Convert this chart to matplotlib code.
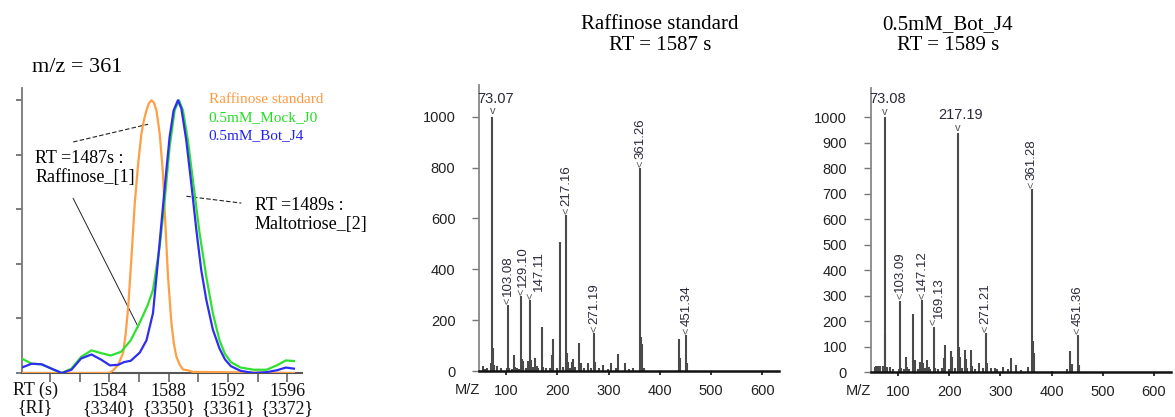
import matplotlib
matplotlib.use("Agg")
import matplotlib.pyplot as plt

# ---- chromatogram m/z = 361 (normalised intensity) ----
raf_rt = [1578.1, 1584.0, 1584.27, 1584.6, 1584.94, 1585.12, 1585.28, 1585.5, 1585.72, 1585.95,
          1586.17, 1586.35, 1586.51, 1586.68, 1586.85, 1587.02, 1587.18, 1587.4, 1587.62, 1587.78,
          1587.96, 1588.19, 1588.35, 1588.52, 1588.75, 1588.97, 1589.3, 1589.64, 1596.45]
raf_int = [0, 0, 0.01, 0.03, 0.074, 0.15, 0.244, 0.427, 0.622, 0.769,
           0.878, 0.93, 0.963, 0.99, 1.0, 0.99, 0.963, 0.878, 0.732, 0.549,
           0.354, 0.184, 0.11, 0.061, 0.03, 0.013, 0.01, 0.004, 0.0]

mock_rt = [1578.1, 1578.77, 1579.44, 1580.1, 1580.8, 1581.45, 1582.1, 1582.8, 1583.45, 1584.1,
           1584.8, 1585.45, 1586.1, 1586.6, 1586.95, 1587.4, 1587.74, 1588.07, 1588.41, 1588.7,
           1588.97, 1589.3, 1589.64, 1590.09, 1590.54, 1590.98, 1591.43, 1591.8, 1592.2, 1592.85,
           1593.75, 1594.6, 1595.3, 1595.9, 1596.45]
mock_int = [0.053, 0.034, 0.032, 0.016, 0.0, 0.016, 0.059, 0.083, 0.073, 0.064,
            0.078, 0.12, 0.19, 0.25, 0.305, 0.464, 0.634, 0.829, 0.963, 1.0,
            0.963, 0.854, 0.707, 0.512, 0.354, 0.22, 0.12, 0.07, 0.04, 0.02,
            0.012, 0.012, 0.028, 0.046, 0.044]

bot_rt = [1578.1, 1578.77, 1579.44, 1580.1, 1580.8, 1581.45, 1582.1, 1582.8, 1583.45, 1584.05,
          1584.6, 1585.0, 1585.45, 1586.06, 1586.51, 1586.95, 1587.29, 1587.62, 1587.85, 1588.07,
          1588.34, 1588.63, 1588.86, 1589.19, 1589.53, 1589.87, 1590.2, 1590.54, 1590.98, 1591.43,
          1591.8, 1592.2, 1592.85, 1593.75, 1594.6, 1595.3, 1595.9, 1596.45]
bot_int = [0.02, 0.034, 0.032, 0.016, 0.0, 0.012, 0.053, 0.068, 0.049, 0.028,
           0.03, 0.04, 0.045, 0.075, 0.12, 0.22, 0.415, 0.61, 0.744, 0.866,
           0.963, 1.0, 0.97, 0.854, 0.695, 0.525, 0.378, 0.269, 0.16, 0.09,
           0.05, 0.025, 0.008, 0.0, 0.003, 0.01, 0.02, 0.016]

rt_ticks = [1580, 1582, 1584, 1586, 1588, 1590, 1592, 1594, 1596]
rt_labels = ['', '', '1584\n{3340}', '', '1588\n{3350}', '', '1592\n{3361}', '', '1596\n{3372}']
chrom_names = ['Raffinose standard', '0.5mM_Mock_J0', '0.5mM_Bot_J4']

# ---- mass spectra ----
std_mz = [55, 59, 63, 70, 73.07, 75, 77, 83, 89, 101, 103.08, 105, 111, 115, 117, 121, 125, 129.10,
          131, 133, 139, 143, 147.11, 149, 153, 157, 160, 163, 169, 171, 177, 185, 189, 191, 199,
          204, 205, 211, 217.16, 219, 221, 225, 229, 231, 235, 243, 245, 251, 259, 265, 271.19,
          273, 281, 289, 299, 305, 315, 319, 331, 339, 347, 361.26, 363, 365, 369, 437, 439, 451.34,
          453]
std_int = [20, 8, 10, 30, 1000, 89, 25, 20, 10, 10, 260, 12, 8, 62, 17, 10, 8, 295,
           46, 40, 12, 39, 279, 42, 15, 50, 18, 12, 174, 15, 10, 12, 63, 125, 10,
           508, 50, 14, 613, 70, 35, 12, 37, 46, 15, 109, 30, 12, 30, 12, 148,
           37, 10, 24, 8, 33, 10, 67, 30, 8, 10, 797, 132, 106, 12, 125, 52, 142,
           30]
std_labels = ['73.07', '103.08', '129.10', '147.11', '217.16', '271.19', '361.26', '451.34']
std_flat = ['73.07']

j4_mz = [55, 57, 60, 65, 70, 73.08, 75, 77, 83, 89, 101, 103.09, 105, 111, 116, 117, 121, 129,
         131, 133, 139, 143, 147.12, 149, 153, 157, 160, 163, 169.13, 171, 177, 185, 189, 191,
         199, 204, 206, 211, 217.19, 219, 221, 225, 230, 232, 235, 242, 245, 251, 258, 265,
         271.21, 273, 281, 289, 293, 305, 315, 320, 331, 341, 354, 361.28, 363, 365, 401, 430,
         437, 439, 451.36, 453]
j4_int = [20, 25, 22, 25, 25, 1000, 145, 20, 20, 10, 12, 280, 14, 10, 60, 20, 12, 226,
          47, 47, 12, 40, 283, 35, 15, 47, 20, 12, 178, 15, 12, 15, 54, 105,
          12, 82, 58, 15, 937, 100, 58, 15, 86, 50, 15, 86, 25, 12, 37, 15,
          152, 37, 15, 15, 10, 21, 10, 54, 27, 8, 21, 717, 123, 76, 5, 13,
          82, 31, 145, 27]
j4_labels = ['73.08', '103.09', '147.12', '169.13', '217.19', '271.21', '361.28', '451.36']
j4_flat = ['73.08', '217.19']

mz_ticks = [100, 200, 300, 400, 500, 600]

SERIF = 'Liberation Serif'
SANS = 'Liberation Sans'
plt.rcParams['font.family'] = SANS

fig = plt.figure(figsize=(11.75, 4.17), dpi=100)

# ---------------- left: extracted ion chromatogram ----------------
ax0 = fig.add_axes([0.0185, 0.1055, 0.2386, 0.6835])
line_cols = ['#FF9F45', '#30E030', '#2E2EF0']
text_cols = ['#FF9A40', '#22DD22', '#2222EE']
ax0.plot(raf_rt, raf_int, color=line_cols[0], lw=1.6, zorder=3)
ax0.plot(mock_rt, mock_int, color=line_cols[1], lw=1.6, zorder=4)
ax0.plot(bot_rt, bot_int, color=line_cols[2], lw=1.6, zorder=5)

ax0.set_xlim(1578.1, 1597.0)
ax0.set_ylim(0, 1.045)
ax0.set_yticks([0, 0.2, 0.4, 0.6, 0.8, 1.0])
ax0.set_yticklabels([])
ax0.set_xticks(rt_ticks)
ax0.set_xticklabels(rt_labels, fontfamily=SERIF, fontsize=13, color='#111111')
for lab in ax0.get_xticklabels():
    lab.set_linespacing(1.0)
ax0.tick_params(axis='x', length=6.5, width=1.2, color='#666666', pad=1)
ax0.tick_params(axis='y', length=4.5, width=1.2, color='#666666')
for s in ['top', 'right']:
    ax0.spines[s].set_visible(False)
ax0.spines['left'].set_color('#777777')
ax0.spines['left'].set_linewidth(1.3)
ax0.spines['bottom'].set_color('#555555')
ax0.spines['bottom'].set_linewidth(1.5)

xa = ax0.get_xaxis_transform()
ax0.text(1579.0, -0.031, 'RT (s)\n{RI}', transform=xa, ha='center', va='top',
         fontfamily=SERIF, fontsize=13, linespacing=1.0, color='#111111')

# legend as coloured text
for i, (name, c) in enumerate(zip(chrom_names, text_cols)):
    ax0.text(1590.7, 1.004 - i * 0.066, name, color=c, fontfamily=SERIF, fontsize=11,
             va='center', ha='left')

ax0.text(1579.0, 0.75, 'RT =1487s :\nRaffinose_[1]', fontfamily=SERIF, fontsize=13,
         va='center', ha='left', linespacing=1.15)
ax0.text(1593.8, 0.578, 'RT =1489s :\nMaltotriose_[2]', fontfamily=SERIF, fontsize=13,
         va='center', ha='left', linespacing=1.15)
ax0.plot([1581.57, 1586.62], [0.847, 0.912], color='#222222', lw=0.8, ls=(0, (4, 2)))
ax0.plot([1581.57, 1585.95], [0.64, 0.169], color='#222222', lw=0.7)
ax0.plot([1589.2, 1592.9], [0.648, 0.623], color='#222222', lw=0.8, ls=(0, (4, 2)))

fig.text(32 / 1175, 1 - 68 / 417, 'm/z = 361', fontfamily=SERIF, fontsize=16, va='center', ha='left')


# ---------------- mass spectra ----------------
def draw_spectrum(ax, mz, inten, labels, flat, yticks, ymax, xmin, shift):
    ax.vlines(mz, 0, inten, color='#4a4a4a', lw=1.5)
    ax.set_xlim(xmin, 633)
    ax.set_ylim(0, ymax)
    ax.set_xticks(mz_ticks)
    ax.set_yticks(yticks)
    ax.tick_params(axis='x', length=3, width=1.2, color='#111111', pad=6, labelsize=10.5,
                   labelcolor='#222222')
    ax.tick_params(axis='y', length=5, width=1.0, color='#777777', pad=12, labelsize=10.5,
                   labelcolor='#222222')
    for s in ['top', 'right']:
        ax.spines[s].set_visible(False)
    ax.spines['left'].set_color('#888888')
    ax.spines['left'].set_linewidth(1.3)
    ax.spines['bottom'].set_color('#111111')
    ax.spines['bottom'].set_linewidth(1.8)
    ax.text(-0.04, -0.066, 'M/Z', transform=ax.transAxes, ha='center', va='center',
            fontsize=10.5, color='#222222')
    for lab in labels:
        v = float(lab)
        k = min(range(len(mz)), key=lambda j: abs(mz[j] - v))
        x, y = mz[k], inten[k]
        if lab in flat:
            ax.annotate('v', (x, y), xytext=(0, 0.5), textcoords='offset points',
                        ha='center', va='bottom', fontsize=8, color='#555555')
            ax.annotate(lab, (x, y), xytext=(2, 8), textcoords='offset points',
                        ha='center', va='bottom', fontsize=10.5, color='#2a2a3a')
        else:
            dx = shift.get(lab, 0)
            ax.annotate('<', (x, y), xytext=(0, 1), textcoords='offset points',
                        ha='center', va='bottom', rotation=90, fontsize=8, color='#555555')
            ax.annotate(lab, (x, y), xytext=(dx, 6.5), textcoords='offset points',
                        ha='center', va='bottom', rotation=90, fontsize=9.5, color='#2a2a3a')


ax1 = fig.add_axes([0.4077, 0.1103, 0.2556, 0.6859])
draw_spectrum(ax1, std_mz, std_int, std_labels, std_flat, [0, 200, 400, 600, 800, 1000], 1125, 47,
              {'129.10': 1.0, '147.11': 6})

ax2 = fig.add_axes([0.741, 0.1079, 0.2553, 0.6803])
draw_spectrum(ax2, j4_mz, j4_int, j4_labels, j4_flat, list(range(0, 1001, 100)), 1114, 46,
              {'169.13': 4})

fig.text(660 / 1175, 1 - 35 / 417, 'Raffinose standard\nRT = 1587 s', fontfamily=SERIF,
         fontsize=15, ha='center', va='center', linespacing=1.15)
fig.text(948 / 1175, 1 - 35 / 417, '0.5mM_Bot_J4\nRT = 1589 s', fontfamily=SERIF,
         fontsize=15, ha='center', va='center', linespacing=1.15)

fig.savefig('out.png', dpi=100)
